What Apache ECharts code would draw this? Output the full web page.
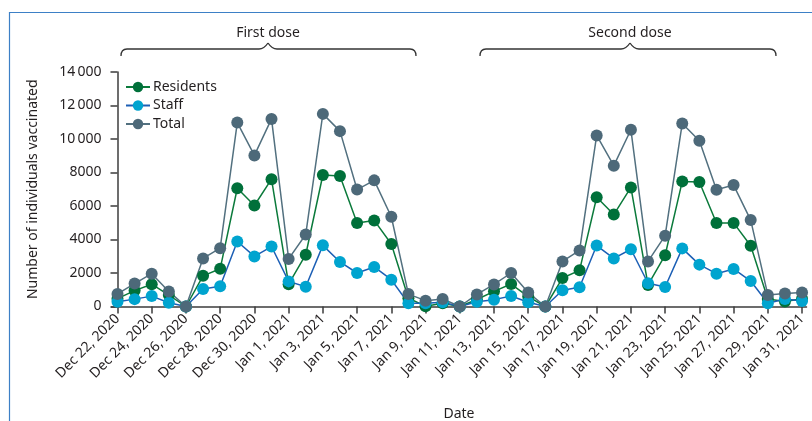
<!DOCTYPE html>
<html>
<head>
<meta charset="utf-8">
<style>
  html, body { margin: 0; padding: 0; background: #fff; }
  #chart { width: 812px; height: 421px; }
</style>
<script src="https://cdn.jsdelivr.net/npm/echarts@6/dist/echarts.min.js"></script>
</head>
<body>
<div id="chart"></div>
<script>
// Daily vaccinations, 22 Dec 2020 – 31 Jan 2021 (one entry per day)
const dates = [
  'Dec 22, 2020','Dec 23, 2020','Dec 24, 2020','Dec 25, 2020','Dec 26, 2020','Dec 27, 2020',
  'Dec 28, 2020','Dec 29, 2020','Dec 30, 2020','Dec 31, 2020','Jan 1, 2021','Jan 2, 2021',
  'Jan 3, 2021','Jan 4, 2021','Jan 5, 2021','Jan 6, 2021','Jan 7, 2021','Jan 8, 2021',
  'Jan 9, 2021','Jan 10, 2021','Jan 11, 2021','Jan 12, 2021','Jan 13, 2021','Jan 14, 2021',
  'Jan 15, 2021','Jan 16, 2021','Jan 17, 2021','Jan 18, 2021','Jan 19, 2021','Jan 20, 2021',
  'Jan 21, 2021','Jan 22, 2021','Jan 23, 2021','Jan 24, 2021','Jan 25, 2021','Jan 26, 2021',
  'Jan 27, 2021','Jan 28, 2021','Jan 29, 2021','Jan 30, 2021','Jan 31, 2021'
];

const residents = [
  470, 950, 1330, 680, 0, 1830, 2250, 7060, 6030, 7600, 1330, 3090,
  7850, 7790, 4990, 5140, 3730, 490, 20, 200, 0, 420, 905, 1340,
  590, 0, 1700, 2160, 6520, 5490, 7110, 1290, 3060, 7470, 7430, 4990,
  4990, 3630, 450, 300, 460
];

const staff = [
  280, 440, 620, 220, 0, 1040, 1210, 3880, 2990, 3580, 1500, 1180,
  3650, 2660, 2000, 2360, 1600, 190, 190, 250, 0, 280, 410, 630,
  250, 0, 970, 1150, 3640, 2870, 3420, 1390, 1160, 3470, 2500, 1960,
  2240, 1520, 190, 450, 330
];

const total = [
  750, 1370, 1960, 900, 0, 2870, 3480, 10980, 9020, 11200, 2840, 4300,
  11500, 10470, 6980, 7530, 5360, 740, 350, 450, 0, 720, 1320, 2000,
  830, 0, 2690, 3350, 10210, 8410, 10550, 2690, 4230, 10930, 9900, 6970,
  7250, 5160, 690, 770, 830
];

const yTicks = [0, 2000, 4000, 6000, 8000, 10000, 12000, 14000];
const yTickLabels = ['0', '2000', '4000', '6000', '8000', '10\u2009000', '12\u2009000', '14\u2009000'];
const labelledDays = dates.map((d, i) => i).filter(i => i % 2 === 0);

const FONT = 'Noto Sans';
const TEXT = '#231f20';
const AXIS = '#3c3c3c';

const pairs = arr => arr.map((v, i) => [i, v]);

const chart = echarts.init(document.getElementById('chart'), null, { renderer: 'canvas' });

function lineSeries(name, data, lineColor, markerColor) {
  return {
    name: name,
    type: 'line',
    data: pairs(data),
    symbol: 'circle',
    symbolSize: 12,
    showAllSymbol: true,
    lineStyle: { color: lineColor, width: 1.5 },
    itemStyle: { color: markerColor, borderWidth: 0 },
    emphasis: { disabled: true },
    z: 2
  };
}

// Curly brace above a range of the axis, with its label
function brace(x1, x2, xm, label) {
  const yLine = 49, yPeak = 43, yEnd = 56, r = 6;
  const st = { fill: null, stroke: '#333', lineWidth: 1.3 };
  const curve = (ax, ay, bx, by, cx, cy) => ({
    type: 'bezierCurve',
    shape: { x1: ax, y1: ay, x2: bx, y2: by, cpx1: cx, cpy1: cy },
    style: st
  });
  const seg = (ax, bx) => ({
    type: 'line',
    shape: { x1: ax, y1: yLine, x2: bx, y2: yLine },
    style: st
  });
  return [
    curve(x1, yEnd, x1 + r, yLine, x1, yLine),
    seg(x1 + r, xm - 9),
    curve(xm - 9, yLine, xm, yPeak, xm - 4, yLine),
    curve(xm, yPeak, xm + 9, yLine, xm + 4, yLine),
    seg(xm + 9, x2 - r),
    curve(x2 - r, yLine, x2, yEnd, x2, yLine),
    {
      type: 'text',
      x: xm,
      y: 33,
      style: {
        text: label,
        fill: TEXT,
        font: '14px "' + FONT + '"',
        align: 'center',
        verticalAlign: 'middle'
      }
    }
  ];
}

const option = {
  animation: false,
  backgroundColor: '#fff',
  textStyle: { fontFamily: FONT },
  grid: {
    left: 111.5, right: 5.5, top: 72, bottom: 114.5,
    containLabel: false,
    outerBoundsMode: 'none'
  },
  legend: {
    orient: 'vertical',
    left: 120,
    top: 75,
    itemWidth: 24,
    itemHeight: 13,
    itemGap: 4.5,
    textStyle: { fontFamily: FONT, fontSize: 14, color: TEXT, padding: [0, 0, 0, -2] },
    data: ['Residents', 'Staff', 'Total']
  },
  xAxis: {
    type: 'value',
    min: -0.35,
    max: 40.26,
    name: 'Date',
    nameLocation: 'middle',
    nameGap: 101,
    nameTextStyle: { fontFamily: FONT, fontSize: 14, color: TEXT },
    splitLine: { show: false },
    axisLine: { show: true, lineStyle: { color: AXIS, width: 1.5 } },
    axisTick: { show: true, length: 7, lineStyle: { color: AXIS, width: 1.5 }, customValues: labelledDays },
    axisLabel: {
      customValues: labelledDays,
      rotate: 45,
      margin: 10,
      fontFamily: FONT,
      fontSize: 14,
      color: TEXT,
      formatter: v => dates[Math.round(v)]
    }
  },
  yAxis: {
    type: 'value',
    min: 0,
    max: 14000,
    interval: 2000,
    name: 'Number of individuals vaccinated',
    nameLocation: 'middle',
    nameGap: 71,
    nameTextStyle: { fontFamily: FONT, fontSize: 14, color: TEXT },
    splitLine: { show: false },
    axisLine: { show: true, lineStyle: { color: AXIS, width: 1.5 } },
    axisTick: { show: true, length: 7, lineStyle: { color: AXIS, width: 1.5 } },
    axisLabel: {
      margin: 10,
      fontFamily: FONT,
      fontSize: 14,
      color: TEXT,
      formatter: v => yTickLabels[yTicks.indexOf(v)]
    }
  },
  graphic: [
    // panel frame (top and left rules)
    {
      type: 'polyline',
      shape: { points: [[9.5, 421], [9.5, 12.5], [812, 12.5]] },
      style: { fill: null, stroke: '#3d80c6', lineWidth: 1.2 }
    },
    ...brace(121, 416, 268, 'First dose'),
    ...brace(480, 776, 630, 'Second dose')
  ],
  series: [
    lineSeries('Residents', residents, '#0b7a3b', '#00703a'),
    lineSeries('Staff', staff, '#1c5fb5', '#00a4cf'),
    lineSeries('Total', total, '#52707f', '#4d6979')
  ]
};

chart.setOption(option);
</script>
</body>
</html>
